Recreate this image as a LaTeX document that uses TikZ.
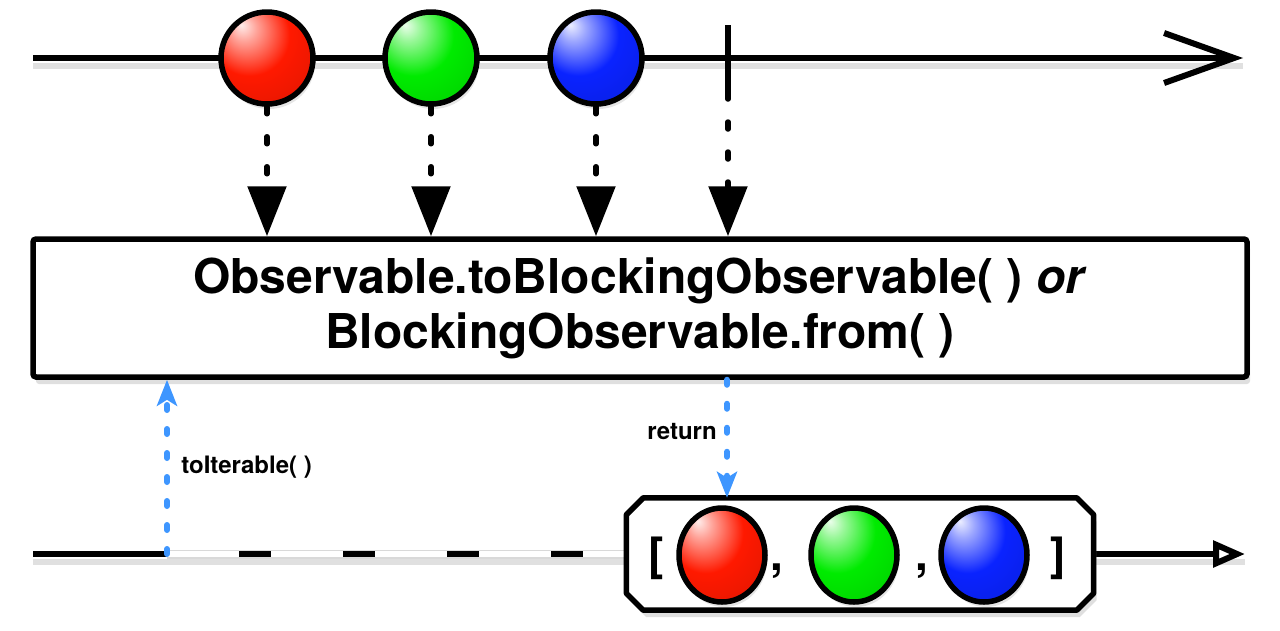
\documentclass[tikz,border=0pt]{standalone}
\usepackage{fontspec}
\setmainfont{TeX Gyre Heros}
\usetikzlibrary{arrows.meta,shapes.geometric,shadows}

\definecolor{rxred}{RGB}{255,25,0}
\definecolor{rxgreen}{RGB}{0,235,0}
\definecolor{rxblue}{RGB}{10,35,255}
\definecolor{rxsky}{RGB}{62,150,255}

\colorlet{ballcol}{rxred}
\pgfdeclareradialshading[ballcol]{glossy}{\pgfpoint{-14bp}{18bp}}{%
color(0bp)=(ballcol!8!white); color(7bp)=(ballcol!40!white);
color(22bp)=(ballcol); color(48bp)=(ballcol!85!black);
color(70bp)=(ballcol!45!black)}

\tikzset{
marble/.style={ellipse, draw, line width=5.5pt, inner sep=0pt,
  /utils/exec={\colorlet{ballcol}{#1}}, shading=glossy,
  drop shadow={opacity=0.2, shadow xshift=2pt, shadow yshift=-5pt}},
emit/.style={line width=5.5pt, line cap=round, dash pattern=on 7pt off 23pt,
  -{Triangle[length=50pt,width=38pt]}},
call/.style={line width=6pt, line cap=round, rxsky, dash pattern=on 5pt off 19pt,
  -{Stealth[length=26pt,width=20pt,inset=6pt]}},
calltext/.style={font=\fontsize{24}{28}\selectfont\bfseries, text=black},
brack/.style={font=\fontsize{46}{50}\selectfont\bfseries, anchor=base, inner sep=0pt},
boxshadow/.style={drop shadow={opacity=0.25, shadow xshift=3pt, shadow yshift=-7pt}},
lineshadow/.style={line width=6pt, black, opacity=0.12, transform canvas={yshift=-8pt}}
}

\begin{document}
\begin{tikzpicture}[x=1pt,y=-1pt]
\useasboundingbox (0,0) rectangle (1280,630);
\pgfmathsetmacro{\top}{58};
\pgfmathsetmacro{\bot}{554};
\pgfmathsetmacro{\cut}{17};

% source line
\coordinate (start) at (33,\top);
\coordinate (end) at (1243,\top);
\draw[lineshadow] (start) -- (end);
\draw[line width=6pt, -{Straight Barb[length=70pt,width=50pt]}] (start) -- (end);

\node[marble=rxred, minimum size=92pt] (r) at (267,\top) {};
\node[marble=rxgreen, minimum size=92pt] (g) at (431,\top) {};
\node[marble=rxblue, minimum size=92pt] (b) at (596,\top) {};
\coordinate (ticktop) at (728,25);
\coordinate (tickbot) at (728,92);
\draw[line width=6pt] (ticktop) -- (tickbot);

% operator
\node[draw, line width=5.5pt, fill=white, rounded corners=3pt,
  minimum width=1214pt, minimum height=138pt, align=center,
  font=\fontsize{48}{55}\selectfont\bfseries, boxshadow]
  (op) at (640,308) {Observable.toBlockingObservable( ) \textit{or}\\BlockingObservable.from( )};

\draw[emit] (r.south) -- (r.south |- op.north);
\draw[emit] (g.south) -- (g.south |- op.north);
\draw[emit] (b.south) -- (b.south |- op.north);
\draw[emit] (tickbot) -- (tickbot |- op.north);

% result line
\coordinate (bstart) at (33,\bot);
\coordinate (iter) at (167,\bot);
\coordinate (bend) at (1245,\bot);
\coordinate (ret) at (727,0);

\node[inner sep=0pt, minimum width=467pt, minimum height=112pt] (arr) at (860,\bot) {};

\draw[lineshadow] (bstart) -- (arr.west);
\draw[lineshadow] (arr.east) -- (bend);
\draw[line width=6pt] (bstart) -- (iter);
\draw[black!15, line width=9pt] (iter) -- (arr.west);
\draw[white, line width=6pt] (iter) -- (arr.west);
\draw[line width=6pt, dash pattern=on 32pt off 72pt, dash phase=32pt] (iter) -- (arr.west);
\draw[line width=6pt, -{Triangle[length=32pt,width=26pt,fill=white]}] (arr.east) -- (bend);

\draw[line width=5.5pt, fill=white, line join=round, boxshadow]
  ([xshift=\cut pt]arr.north west) -- ([xshift=-\cut pt]arr.north east)
  -- ([yshift=-\cut pt]arr.north east) -- ([yshift=\cut pt]arr.south east)
  -- ([xshift=-\cut pt]arr.south east) -- ([xshift=\cut pt]arr.south west)
  -- ([yshift=\cut pt]arr.south west) -- ([yshift=-\cut pt]arr.north west) -- cycle;

\node[marble=rxred, minimum width=86pt, minimum height=94pt] (r2) at (722,555) {};
\node[marble=rxgreen, minimum width=86pt, minimum height=94pt] (g2) at (854,555) {};
\node[marble=rxblue, minimum width=86pt, minimum height=94pt] (b2) at (984,555) {};
\node[brack] (lb) at (656,570) {[};
\node[brack] (c1) at (777,570) {,};
\node[brack] (c2) at (922,570) {,};
\node[brack] (rb) at (1058,570) {]};

\draw[call] (iter) -- (iter |- op.south) node[midway, right=8pt, calltext] {toIterable( )};
\draw[call] (op.south -| ret) -- (arr.north -| ret) node[pos=0.44, left=4pt, calltext] {return};

\end{tikzpicture}
\end{document}
